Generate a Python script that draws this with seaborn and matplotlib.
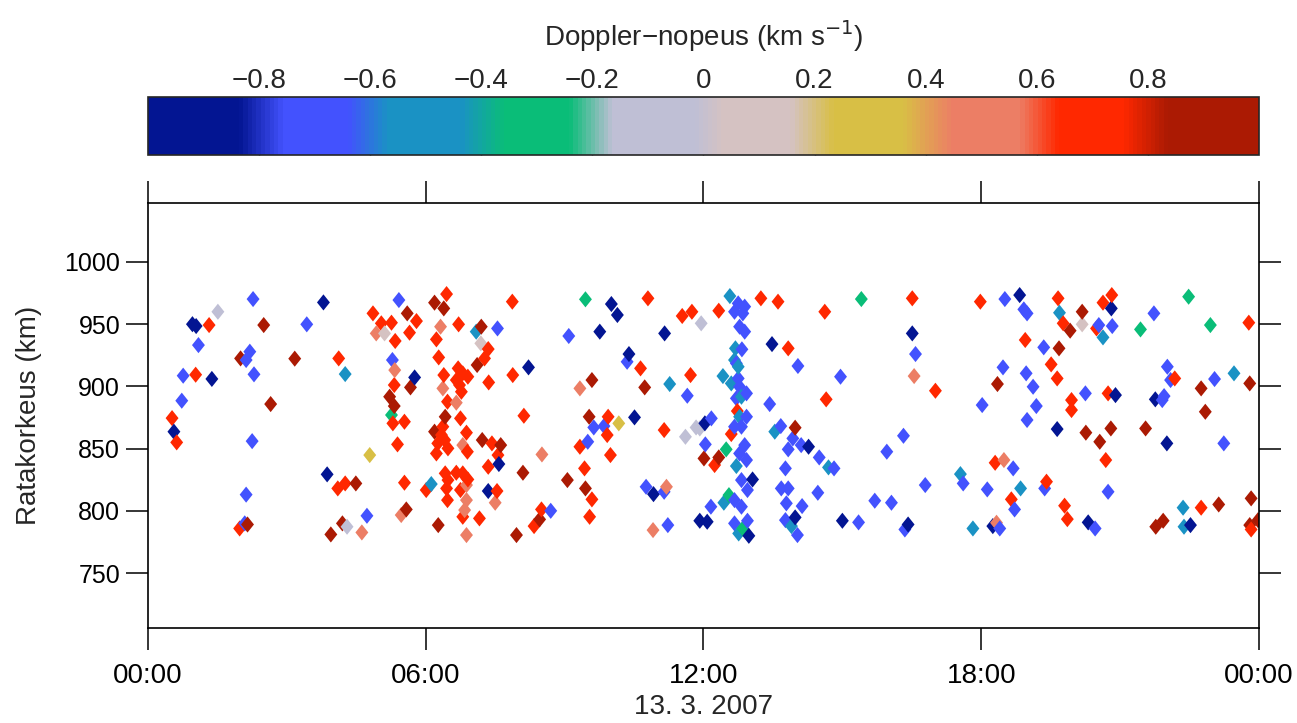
import numpy as np
import pandas as pd
import matplotlib
matplotlib.use("Agg")
import matplotlib.pyplot as plt
import seaborn as sns
from matplotlib.colors import LinearSegmentedColormap, Normalize
from matplotlib.cm import ScalarMappable
from matplotlib.path import Path

# Doppler speed classes (km/s)
navy_v, blue_v, teal_v, green_v, lav_v = -0.92, -0.72, -0.5, -0.3, -0.12
pink_v, yellow_v, salmon_v, red_v, darkred_v = 0.1, 0.3, 0.5, 0.7, 0.9

# time (hours since 00:00 UT) and altitude (km) for each class
navy_t = [0.96, 1.04, 1.38, 0.56, 3.79, 3.87, 5.76, 8.22, 7.58, 7.35, 10.01, 10.14, 9.76, 11.16, 10.39,
          10.51, 10.92, 13.48, 12.03, 13.06, 11.92, 12.08, 12.98, 13.98, 16.51, 14.27, 15.00, 16.42,
          18.83, 18.25, 20.81, 20.90, 19.64, 20.31, 21.76, 22.01, 22.52]
navy_km = [950, 948.5, 906, 863.6, 967.5, 829.3, 907.2, 915.3, 837.6, 815.9, 966.2, 957.4, 944, 942.6, 926,
           875.1, 813.4, 934, 870.3, 825.2, 792, 791.2, 779.9, 794.7, 942.6, 851.5, 792, 789,
           973.4, 787.7, 962.7, 893, 865.7, 790.7, 889.6, 854.2, 788.5]

blue_t = [2.27, 1.09, 2.20, 2.12, 0.76, 2.29, 0.73, 2.25, 2.12, 2.09, 3.43, 4.73, 5.42, 5.28,
          7.55, 9.09, 9.50, 8.70, 10.35, 11.65, 9.63, 9.85, 10.76, 11.15, 11.23,
          12.75, 12.89, 12.67, 12.85, 12.78, 12.89, 12.83, 12.71, 14.04, 12.75, 12.78, 12.93, 12.71,
          13.43, 12.93, 12.82, 12.67, 12.17, 13.67, 12.04, 13.93, 14.11, 13.83, 12.89, 12.78, 12.93,
          13.77, 12.82, 12.95, 13.68, 13.83, 13.79, 12.67, 12.82, 12.16, 14.13, 12.67, 12.95, 13.77, 14.03,
          16.58, 14.96, 14.50, 14.82, 16.32, 15.96, 14.47, 15.70, 16.06, 15.35, 16.35,
          18.51, 18.92, 18.99, 18.47, 18.97, 18.02, 18.99, 18.69, 17.61, 16.79, 18.13, 18.72, 18.40,
          20.54, 20.83, 19.35, 19.12, 20.25, 19.19, 19.37, 20.74, 20.46,
          21.73, 22.02, 22.09, 23.04, 21.95, 21.91, 23.24]
blue_km = [970.2, 933.2, 927.9, 921.2, 908.6, 909.7, 888.5, 856, 813, 789.9, 949.9, 796, 969.4, 921.2,
           946.6, 940.5, 855.5, 800, 919.8, 892.5, 867, 868.1, 819.3, 815.3, 788.5,
           966.7, 964.1, 960, 958.7, 948, 944, 929.8, 918.5, 916.4, 906.4, 899.7, 894.4, 890.4,
           885.8, 875.6, 867.6, 867.6, 874.3, 868.1, 853.4, 858.2, 852.8, 849.4, 852.8, 846.1, 840.8,
           834.1, 824.7, 816.7, 818, 818, 806, 808.6, 803.3, 803.3, 803.8, 789.9, 792, 792.5, 780.5,
           926, 907.8, 842.9, 834.1, 860.3, 847.5, 814.5, 808.1, 806.5, 790.7, 785,
           970.2, 961.9, 958.7, 915.3, 910.5, 885, 873, 834.1, 822, 820.7, 817.2, 801.1, 785.8,
           949.3, 948.5, 931.4, 899.7, 894.4, 884.2, 818, 815.3, 785.8,
           958.7, 915.8, 905.1, 905.9, 892.2, 889, 854.2]

teal_t = [4.26, 7.09, 6.12, 11.27, 12.57, 12.69, 12.67, 12.75, 12.42, 12.60, 12.82, 12.78, 13.54, 12.71,
          12.44, 12.76, 13.90, 14.70, 17.55, 18.85, 17.82, 19.69, 20.63, 23.46, 22.36, 22.38]
teal_km = [909.9, 944, 821.5, 901.9, 972.6, 930.6, 921.2, 915.8, 908.3, 902.4, 891.7, 875.6, 863.6, 836,
           806.5, 781.8, 787.7, 834.9, 829.5, 818, 785.8, 959.2, 939.4, 910.5, 802.5, 787.2]

green_t = [5.26, 9.45, 12.49, 12.55, 12.85, 15.41, 21.44, 22.48, 22.95]
green_km = [877, 970, 849.4, 812.6, 785.8, 970.2, 945.8, 972.1, 949.3]

lav_t = [1.51, 4.30, 11.95, 11.92, 11.61, 11.84]
lav_km = [960, 787.2, 950.7, 866.2, 859.5, 867]

pink_t = [5.11, 7.19, 20.18]
pink_km = [942.6, 934.6, 949.9]

yellow_t = [4.79, 10.17]
yellow_km = [844.8, 870.3]

salmon_t = [4.62, 4.93, 6.32, 5.33, 6.37, 6.66, 6.80, 6.88, 6.88, 5.47, 6.84, 6.88, 9.33, 8.51, 7.50,
            11.20, 10.91, 16.55, 18.49, 18.33]
salmon_km = [782.6, 942.6, 948, 913.1, 898.4, 886.9, 852.8, 820.7, 808.6, 796.6, 800.6, 780.5, 898.4, 845.3,
             806.5, 819.3, 784.5, 908.3, 840.8, 790.4]

red_t = [1.32, 1.03, 0.52, 0.62, 1.98, 4.12, 4.10, 4.26,
         6.45, 4.86, 5.80, 5.04, 5.26, 5.65, 6.71, 5.34, 6.23, 6.28, 5.32, 6.70, 6.80, 6.91, 6.66, 6.73,
         6.39, 6.77, 6.47, 5.54, 5.29, 6.75, 6.37, 6.34, 6.41, 6.26, 6.48, 6.88, 6.23, 5.39, 6.90, 6.42,
         6.66, 6.80, 6.48, 6.91, 5.54, 6.01, 6.45, 6.75, 6.47, 6.80,
         7.87, 7.35, 7.27, 7.88, 7.36, 8.12, 7.43, 7.56, 7.35, 9.33, 9.43, 7.54, 7.16, 8.50, 8.34,
         10.80, 11.54, 11.75, 10.64, 11.72, 9.94, 9.92, 11.15, 9.99, 9.59, 9.54,
         13.24, 13.61, 12.33, 13.83, 12.73, 12.60, 12.24, 14.62, 16.51, 14.65,
         17.98, 18.95, 17.01, 18.30, 18.65,
         19.66, 20.82, 20.63, 19.77, 20.49, 19.51, 19.64, 20.74, 19.95, 19.95, 20.69, 19.41, 19.80, 19.86,
         23.78, 22.18, 22.75, 23.83]
red_km = [949.3, 909.4, 874.5, 855, 785.8, 922.5, 818, 822,
          974.2, 958.7, 952.5, 950.7, 951.2, 943.2, 949.9, 936.5, 937.8, 923.3, 901.1, 914.5, 910.5, 907.8,
          905.1, 901.1, 909.1, 895.7, 887.7, 871.6, 870.3, 874.3, 867.6, 860.9, 856.9, 854.2, 850.2, 862.8,
          846.1, 853.4, 847.5, 830.1, 830.6, 830.1, 824.7, 825.2, 822.6, 816.7, 818, 816.7, 808.6, 795.2,
          968.1, 930, 922.5, 909.1, 903.2, 876.4, 854.2, 844.8, 835.4, 851.5, 834.1, 815.9, 793.9, 801.1, 787.7,
          970.8, 956.6, 960, 914.5, 909.1, 875.6, 860.9, 864.9, 844.8, 809.2, 795.2,
          970.8, 968.1, 960.8, 930.6, 880.2, 861.7, 836.8, 960, 970.8, 889.6,
          968.1, 937.3, 896.5, 838.6, 809.2,
          970.8, 973.4, 967.3, 950.7, 946.6, 917.7, 906.4, 894.4, 889, 881, 840.8, 823.4, 804.1, 793.3,
          951.2, 906.4, 802.5, 785]

darkred_t = [2.00, 2.15, 2.50, 3.17, 2.65, 4.49, 4.20, 3.95,
             6.19, 6.39, 5.60, 5.67, 7.11, 5.22, 5.32, 6.42, 6.19, 5.58, 6.27,
             7.20, 7.22, 7.62, 8.10, 9.06, 9.45, 8.46, 7.96, 9.59, 10.73, 9.53,
             13.98, 12.01, 12.33, 18.35, 20.18, 19.92, 19.68, 20.26, 20.80, 20.56,
             23.80, 22.75, 22.84, 21.55, 23.13, 23.83, 21.77, 21.93, 23.80, 23.98]
darkred_km = [922.5, 789, 949.3, 922.3, 885.8, 822, 789.9, 781,
              967.3, 962.7, 958.7, 899.2, 917.2, 891.7, 884.2, 875.6, 863.6, 801.1, 788.5,
              948, 856.9, 852.8, 830.6, 824.7, 818, 793.1, 780.5, 905.1, 899.2, 875.6,
              866.8, 842.1, 842.9, 901.9, 960, 944.8, 930.6, 862.8, 866.2, 855.5,
              902.4, 898.4, 879.6, 866.2, 805.1, 810, 787.2, 792, 788.5, 792.5]

x_ticks = [0, 6, 12, 18, 24]
x_ticklabels = ["00:00", "06:00", "12:00", "18:00", "00:00"]
y_ticks = [750, 800, 850, 900, 950, 1000]
cbar_ticks = [-0.8, -0.6, -0.4, -0.2, 0, 0.2, 0.4, 0.6, 0.8]

groups = [(navy_t, navy_km, navy_v), (blue_t, blue_km, blue_v), (teal_t, teal_km, teal_v),
          (green_t, green_km, green_v), (lav_t, lav_km, lav_v), (pink_t, pink_km, pink_v),
          (yellow_t, yellow_km, yellow_v), (salmon_t, salmon_km, salmon_v),
          (red_t, red_km, red_v), (darkred_t, darkred_km, darkred_v)]
frames = [pd.DataFrame({"t": t, "km": km, "v": v}) for t, km, v in groups]
df = pd.concat(frames, ignore_index=True)
# mix drawing order a bit so overlaps are not sorted by colour
df = df.sort_values("t", kind="stable").reset_index(drop=True)

cmap = LinearSegmentedColormap.from_list("doppler", [
    (0.0, "#031592"), (0.081, "#031592"),
    (0.121, "#4352FE"), (0.179, "#4352FE"),
    (0.215, "#1A92C4"), (0.281, "#1A92C4"),
    (0.32, "#0ABD78"), (0.379, "#0ABD78"),
    (0.418, "#BFBFD5"), (0.493, "#BFBFD5"),
    (0.517, "#D5C2C2"), (0.579, "#D5C2C2"),
    (0.618, "#D8BF45"), (0.68, "#D8BF45"),
    (0.725, "#EC7E65"), (0.785, "#EC7E65"),
    (0.821, "#FF2800"), (0.879, "#FF2800"),
    (0.919, "#AB1A03"), (1.0, "#AB1A03")])
norm = Normalize(-1, 1)

sns.set_style("ticks")
plt.rcParams["font.family"] = ["Liberation Sans", "DejaVu Sans"]
plt.rcParams["axes.unicode_minus"] = True

fig = plt.figure(figsize=(12.97, 7.23), dpi=100)
ax = fig.add_axes([0.1141, 0.1314, 0.8566, 0.5878])
cax = fig.add_axes([0.1141, 0.7856, 0.8566, 0.0802])

diamond = Path([(0, 1), (0.8, 0), (0, -1), (-0.8, 0), (0, 1)],
               [Path.MOVETO, Path.LINETO, Path.LINETO, Path.LINETO, Path.CLOSEPOLY])
sns.scatterplot(data=df, x="t", y="km", hue="v", palette=cmap, hue_norm=norm,
                marker=diamond, s=135, linewidth=0, legend=False, ax=ax)

ax.set_xlim(0, 24)
ax.set_ylim(705.8, 1047.4)
ax.set_xticks(x_ticks)
ax.set_xticklabels(x_ticklabels)
ax.set_yticks(y_ticks)
for s in ax.spines.values():
    s.set_visible(True)
    s.set_linewidth(1.2)
    s.set_color("black")
ax.tick_params(axis="both", which="major", direction="out", length=16, width=1.1, colors="black")
ax.tick_params(axis="x", top=True, labeltop=False, pad=9, labelsize=20)
ax.tick_params(axis="y", right=True, labelright=False, pad=4, labelsize=18)
ax.set_xlabel("13. 3. 2007", fontsize=20, labelpad=4)
ax.set_ylabel("Ratakorkeus (km)", fontsize=20, labelpad=16)

cb = fig.colorbar(ScalarMappable(norm=norm, cmap=cmap), cax=cax, orientation="horizontal")
cb.set_ticks(cbar_ticks)
cb.set_ticklabels(["\u22120.8", "\u22120.6", "\u22120.4", "\u22120.2", "0", "0.2", "0.4", "0.6", "0.8"])
cb.outline.set_linewidth(1.2)
cax.xaxis.set_ticks_position("both")
cax.tick_params(axis="x", direction="in", length=6, width=1.0, labeltop=True, labelbottom=False,
                labelsize=20, pad=2)
cax.set_xlabel("Doppler\u2212nopeus (km s$^{-1}$)", fontsize=20, labelpad=16)
cax.xaxis.set_label_position("top")

fig.savefig("out.png", dpi=100)
